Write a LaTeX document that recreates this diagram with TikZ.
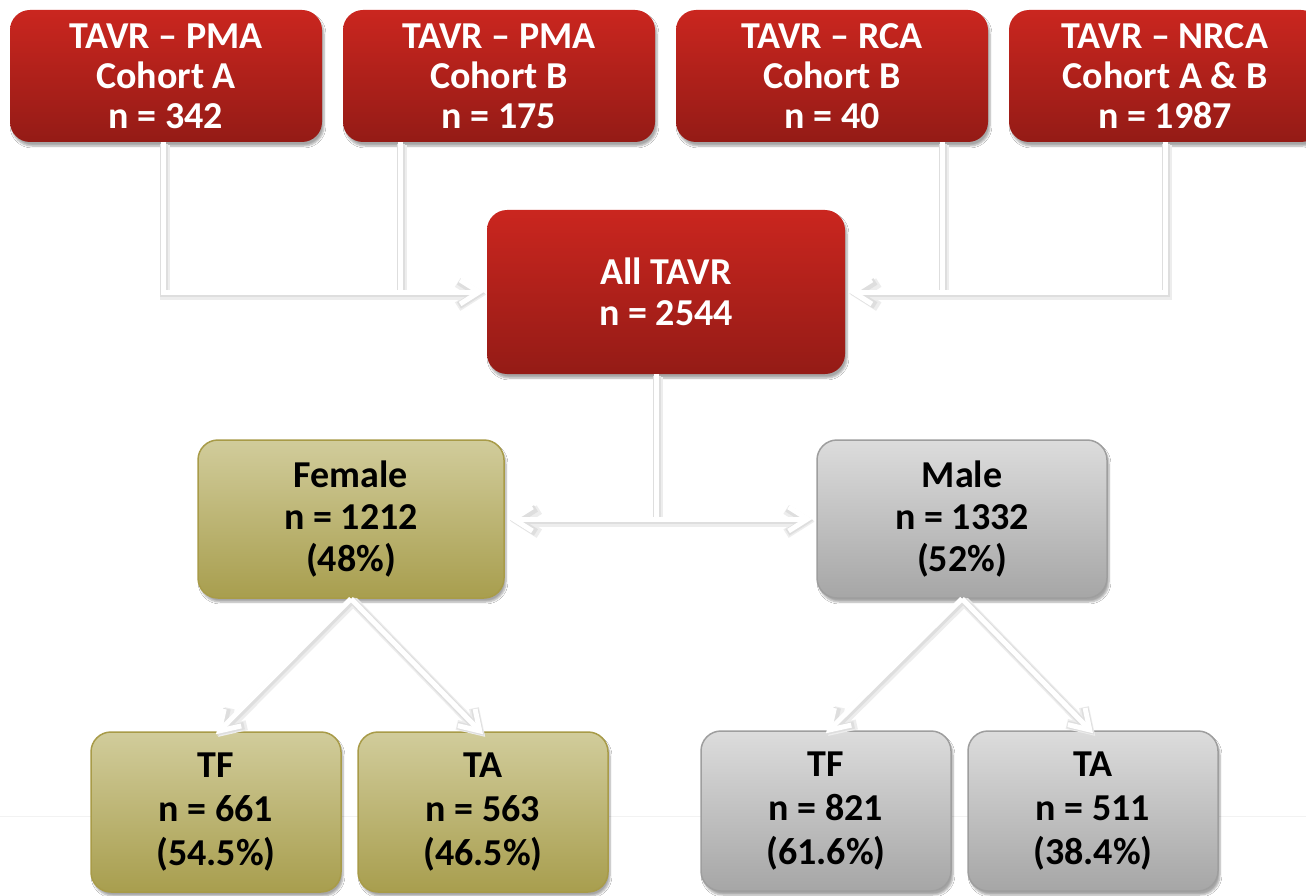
\documentclass[tikz,border=0pt]{standalone}
\usepackage{fontspec}
\setmainfont{Carlito}
\usetikzlibrary{arrows.meta,shadows.blur}
\definecolor{redtop}{RGB}{202,38,31}
\definecolor{redbot}{RGB}{148,27,22}
\definecolor{femtop}{RGB}{209,204,155}
\definecolor{fembot}{RGB}{168,158,78}
\definecolor{femdraw}{RGB}{168,155,72}
\definecolor{maltop}{RGB}{220,220,220}
\definecolor{malbot}{RGB}{166,166,166}
\definecolor{maldraw}{RGB}{158,158,158}
\tikzset{
  basebox/.style={rectangle, rounded corners=20pt, align=center, inner sep=0pt,
    blur shadow={shadow xshift=2pt, shadow yshift=-4pt, shadow blur steps=6, shadow opacity=35}},
  redbox/.style={basebox, top color=redtop, bottom color=redbot, draw=none, text=white,
    minimum width=312pt, minimum height=132pt, font=\fontsize{38}{40}\selectfont\bfseries},
  allbox/.style={redbox, minimum width=358pt, minimum height=164pt, font=\fontsize{38}{41}\selectfont\bfseries},
  fembox/.style={basebox, top color=femtop, bottom color=fembot, draw=femdraw, line width=1.5pt, text=black,
    font=\fontsize{38}{42}\selectfont\bfseries},
  malbox/.style={basebox, top color=maltop, bottom color=malbot, draw=maldraw, line width=1.5pt, text=black,
    font=\fontsize{38}{42}\selectfont\bfseries},
  leafsize/.style={minimum width=250pt, minimum height=160pt, font=\fontsize{38}{44}\selectfont\bfseries},
  shadA/.style={draw=black!7, line width=10pt},
  shadB/.style={draw=black!13, line width=7.5pt},
  conn/.style={draw=white, line width=5pt},
  layA/.style={transform canvas={xshift=2.2pt,yshift=-2.6pt}},
  layB/.style={transform canvas={xshift=1.2pt,yshift=-1.4pt}},
  layC/.style={},
  tip/.style={-{Straight Barb[length=19pt,width=24pt]}},
  tips/.style={{Straight Barb[length=19pt,width=24pt]}-{Straight Barb[length=19pt,width=24pt]}}
}
\begin{document}
\begin{tikzpicture}[x=1pt,y=-1pt]
\useasboundingbox (0,0) rectangle (1306,896);
\fill[white] (0,0) rectangle (1306,896);
\coordinate (fl) at (0,816);
\coordinate (fr) at (1306,816);
\draw[black!5, line width=1pt] (fl) -- (fr);

\node[allbox] (all) at (666,292) {All TAVR\\n = 2544};
\node[redbox] (a) at (166,76) {TAVR -- PMA\\Cohort A\\n = 342};
\node[redbox] (b) at (499,76) {TAVR -- PMA\\Cohort B\\n = 175};
\node[redbox] (c) at (832,76) {TAVR -- RCA\\Cohort B\\n = 40};
\node[redbox] (d) at (1165,76) {TAVR -- NRCA\\Cohort A \& B\\n = 1987};
\node[fembox, minimum width=306pt, minimum height=158pt] (fem) at (351,519) {Female\\n = 1212\\(48\%)};
\node[malbox, minimum width=290pt, minimum height=158pt] (mal) at (962,519) {Male\\n = 1332\\(52\%)};
\node[fembox, leafsize] (ftf) at (216,812) {TF\\n = 661\\(54.5\%)};
\node[fembox, leafsize] (fta) at (483,812) {TA\\n = 563\\(46.5\%)};
\node[malbox, leafsize] (mtf) at (826,811) {TF\\n = 821\\(61.6\%)};
\node[malbox, leafsize] (mta) at (1093,811) {TA\\n = 511\\(38.4\%)};

\foreach \lay/\sh in {shadA/layA, shadB/layB, conn/layC} {
  \begin{scope}[\sh]
  \draw[\lay] ([xshift=-99pt]b.south) -- ([xshift=-99pt,yshift=1pt]b.south |- all.west);
  \draw[\lay] ([xshift=110pt]c.south) -- ([xshift=110pt,yshift=1pt]c.south |- all.west);
  \draw[\lay, tip] ([xshift=-3pt]a.south) |- ([xshift=-3pt]all.west);
  \draw[\lay, tip] (d.south) |- ([xshift=3pt]all.east);
  \draw[\lay] ([xshift=-10pt]all.south) -- ([xshift=-10pt]all.south |- fem.east);
  \draw[\lay, tips] ([xshift=4pt]fem.east) -- ([xshift=-4pt]mal.west);
  \draw[\lay, tip] (fem.south) -- ([yshift=-3pt]ftf.north);
  \draw[\lay, tip] (fem.south) -- ([yshift=-3pt]fta.north);
  \draw[\lay, tip] (mal.south) -- ([yshift=-3pt]mtf.north);
  \draw[\lay, tip] (mal.south) -- ([yshift=-3pt]mta.north);
  \end{scope}
}
\end{tikzpicture}
\end{document}
